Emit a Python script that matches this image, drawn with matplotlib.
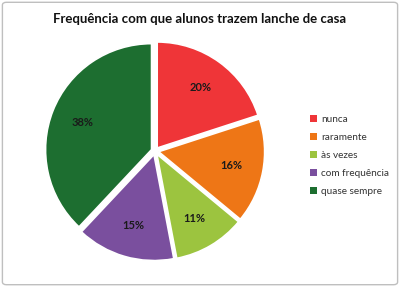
import matplotlib.pyplot as plt
from matplotlib.patches import FancyBboxPatch

# dados do grafico
categorias = ["nunca", "raramente", "às vezes", "com frequência", "quase sempre"]
percentuais = [20, 16, 11, 15, 38]
cores = ["#EF3538", "#EE7616", "#9CC43F", "#7A4F9E", "#1D6E30"]

plt.rcParams['font.family'] = ['Lato', 'DejaVu Sans']

fig = plt.figure(figsize=(4, 2.87), dpi=100)

# moldura cinza em volta do grafico
borda = FancyBboxPatch((0.006, 0.008), 0.988, 0.984,
                       boxstyle="round,pad=0,rounding_size=0.01",
                       transform=fig.transFigure, facecolor="none",
                       edgecolor="#BFBFBF", linewidth=1.0, zorder=5)
fig.patches.append(borda)

r = 106  # raio em pixels
cx, cy = 155, 287 - 151
half = r * 1.1
ax = fig.add_axes([(cx - half) / 400, (cy - half) / 287, 2 * half / 400, 2 * half / 287])

wedges, texts, autotexts = ax.pie(percentuais, colors=cores, startangle=90, counterclock=False,
                                  explode=[0.035] * len(percentuais),
                                  autopct=lambda p: "%d%%" % round(p), pctdistance=0.7,
                                  wedgeprops={"edgecolor": "white", "linewidth": 1.2})
for t in autotexts:
    t.set_fontsize(8)
    t.set_fontweight("bold")
    t.set_color("#1a1a1a")
ax.set_xlim(-1.1, 1.1)
ax.set_ylim(-1.1, 1.1)
ax.set_aspect("equal")

fig.text(0.5, 0.935, "Frequência com que alunos trazem lanche de casa",
         ha="center", va="center", fontsize=9.5, fontweight="bold", color="#111111")

leg = fig.legend(wedges, categorias, loc="upper left", bbox_to_anchor=(0.765, 0.612),
                 frameon=False, fontsize=7.2, handlelength=0.7, handleheight=0.7,
                 handletextpad=0.4, labelspacing=0.9, borderaxespad=0)
for h in leg.legend_handles:
    h.set_edgecolor("none")
for t in leg.get_texts():
    t.set_color("#333333")

fig.savefig("out.png", dpi=100)
